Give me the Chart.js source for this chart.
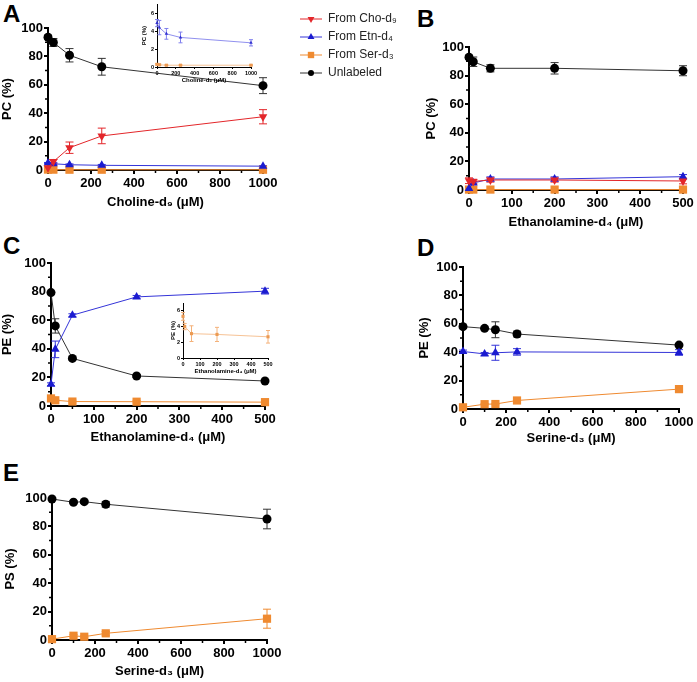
<!DOCTYPE html>
<html lang="en">
<head>
<meta charset="UTF-8">
<title>Labeled phospholipid fractions</title>
<script src="https://cdn.jsdelivr.net/npm/chart.js"></script>
<style>
  body { margin: 0; background: #fff; font-family: Arial, "Liberation Sans", sans-serif; }
  #page { position: relative; width: 697px; height: 682px; overflow: hidden; background: #fff; }
  .letter { position: absolute; font-weight: bold; font-size: 24px; line-height: 24px; color: #000; }
</style>
</head>
<body>
<div id="page">
  <div class="letter" style="left:3px;top:2px">A</div>
  <div class="letter" style="left:417px;top:7px">B</div>
  <div class="letter" style="left:3px;top:234px">C</div>
  <div class="letter" style="left:417px;top:236px">D</div>
  <div class="letter" style="left:3px;top:461px">E</div>
</div>
<script>
// ---- data (% of total) ----
// A: choline-d9 titration, PC
const xA = [0, 25, 100, 250, 1000];
const choA = [1.5, 5.9, 15.7, 24, 37.5];
const choErrA = [1, 1.5, 4, 5.5, 5];
const etnA = [4.9, 4.4, 3.7, 3.3, 2.7];
const etnErrA = [0.4, 0.8, 0.6, 0.6, 0.35];
const serA = [0.3, 0.25, 0.2, 0.2, 0.2];
const serErrA = [0.08, 0.08, 0.05, 0.05, 0.05];
const unlA = [93.5, 89.8, 80.8, 72.7, 59.4];
const unlErrA = [1.5, 2.8, 4.7, 5.9, 5.6];

// B: ethanolamine-d4 titration, PC
const xB = [0, 10, 50, 200, 500];
const choB = [6.5, 6, 7, 7, 6.3];
const choErrB = [2, 1.5, 1.5, 1.5, 2];
const etnB = [1, 4.9, 7.7, 7.7, 9.3];
const etnErrB = [0.5, 1, 1.5, 1.5, 1.5];
const serB = [0.3, 0.3, 0.3, 0.3, 0.3];
const serErrB = [0, 0, 0, 0, 0];
const unlB = [92.8, 89.7, 85.1, 85.1, 83.4];
const unlErrB = [1.5, 3.3, 2.5, 4, 3.5];

// C: ethanolamine-d4 titration, PE
const xC = [0, 10, 50, 200, 500];
const etnC = [15.2, 39.6, 63.5, 76.3, 80.3];
const etnErrC = [1, 5.8, 1, 1, 2];
const serC = [5.3, 4.0, 3.1, 3.0, 2.7];
const serErrC = [0.5, 0.4, 1.0, 0.9, 0.8];
const unlC = [79.3, 56, 33.3, 21, 17.5];
const unlErrC = [1, 5, 1, 1, 1];

// D: serine-d3 titration, PE
const xD = [0, 100, 150, 250, 1000];
const etnD = [40.5, 38.8, 39.6, 40.2, 39.8];
const etnErrD = [1, 1, 5.3, 2.3, 2];
const serD = [1.2, 3.4, 3.5, 6, 14];
const serErrD = [0.5, 0.5, 0.5, 0.8, 1];
const unlD = [58, 56.8, 55.8, 52.8, 45];
const unlErrD = [1, 1, 5.6, 2, 1];

// E: serine-d3 titration, PS
const xE = [0, 100, 150, 250, 1000];
const serE = [0.6, 3, 2.3, 4.7, 15];
const serErrE = [0.5, 0.8, 0.8, 1.3, 6.7];
const unlE = [99.3, 97, 97.4, 95.6, 85.2];
const unlErrE = [0.8, 1, 1, 2, 6.9];

const seriesNames = ['From Cho-d\u2089', 'From Etn-d\u2084', 'From Ser-d\u2083', 'Unlabeled'];

// ---- styles ----
const FONT = 'Arial, "Liberation Sans", sans-serif';
const RED = '#e3262a', BLUE = '#1b1bd0', ORANGE = '#ef8a30', BLACK = '#000000';

const styleCho = { borderColor: RED, pointBackgroundColor: RED, pointStyle: 'triangle', pointRotation: 180, pointRadius: 5, errColor: RED };
const styleEtn = { borderColor: '#3434d8', pointBackgroundColor: BLUE, pointStyle: 'triangle', pointRotation: 0, pointRadius: 5, errColor: '#3434d8' };
const styleSer = { borderColor: ORANGE, pointBackgroundColor: ORANGE, pointStyle: 'rect', pointRotation: 0, pointRadius: 5.8, errColor: ORANGE };
const styleUnl = { borderColor: '#333333', pointBackgroundColor: BLACK, pointStyle: 'circle', pointRotation: 0, pointRadius: 4.5, errColor: '#333333' };

const insetEtn = { borderColor: '#7474ea', pointBackgroundColor: '#3030d0', pointStyle: 'triangle', pointRadius: 2, errColor: '#8080ee' };
const insetSer = { borderColor: '#f4b27a', pointBackgroundColor: '#ec9a52', pointStyle: 'rect', pointRadius: 2.2, errColor: '#f4b27a' };

function pts(xs, ys) { return xs.map((x, i) => ({ x: x, y: ys[i] })); }

function series(label, xs, ys, errs, style, extra) {
  return Object.assign({
    label: label, data: pts(xs, ys), errors: errs,
    borderWidth: 1, pointBorderWidth: 0, pointHoverRadius: 0,
    clip: false, tension: 0, fill: false, capHalf: 4
  }, style, extra || {});
}

// ---- plugins ----
const errorBars = {
  id: 'errorBars',
  beforeDatasetsDraw(chart) {
    const { ctx, scales: { x, y } } = chart;
    chart.data.datasets.forEach(ds => {
      if (!ds.errors) return;
      ctx.save();
      ctx.strokeStyle = ds.errColor || ds.borderColor;
      ctx.lineWidth = ds.errWidth || 1;
      ds.data.forEach((p, j) => {
        const e = ds.errors[j];
        if (!e) return;
        const px = x.getPixelForValue(p.x);
        const y1 = y.getPixelForValue(Math.min(p.y + e, y.max));
        const y2 = y.getPixelForValue(Math.max(p.y - e, y.min));
        ctx.beginPath();
        ctx.moveTo(px, y1); ctx.lineTo(px, y2);
        ctx.moveTo(px - ds.capHalf, y1); ctx.lineTo(px + ds.capHalf, y1);
        ctx.moveTo(px - ds.capHalf, y2); ctx.lineTo(px + ds.capHalf, y2);
        ctx.stroke();
      });
      ctx.restore();
    });
  }
};

const minorTicks = {
  id: 'minorTicks',
  beforeDatasetsDraw(chart, args, o) {
    if (!o || !o.len) return;
    const { ctx, chartArea: a, scales: { x, y } } = chart;
    const isMajor = (v, m) => Math.abs(v / m - Math.round(v / m)) < 1e-6;
    ctx.save();
    ctx.strokeStyle = '#000';
    ctx.lineWidth = o.width;
    ctx.beginPath();
    if (o.x) for (let v = o.x; v < x.max; v += o.x) {
      if (isMajor(v, o.xMajor)) continue;
      const px = x.getPixelForValue(v);
      ctx.moveTo(px, a.bottom); ctx.lineTo(px, a.bottom + o.len);
    }
    if (o.y) for (let v = o.y; v < y.max; v += o.y) {
      if (isMajor(v, o.yMajor)) continue;
      const py = y.getPixelForValue(v);
      ctx.moveTo(a.left - o.len, py); ctx.lineTo(a.left, py);
    }
    ctx.stroke();
    ctx.restore();
  }
};

// ---- axis builder ----
function axis(o, size) {
  return {
    type: 'linear', min: 0, max: o.max,
    border: { color: '#000', width: o.lw },
    grid: { drawOnChartArea: false, drawTicks: true, tickLength: o.tl, tickColor: '#000', tickWidth: o.lw, lineWidth: o.lw },
    ticks: { stepSize: o.step, autoSkip: false, maxRotation: 0, includeBounds: false, color: '#000', padding: o.pad,
             callback: v => String(v),
             font: { family: FONT, size: o.fs, weight: 'bold' } },
    title: { display: true, text: o.title, color: '#000', padding: { top: o.tpad || 0, bottom: 0 },
             font: { family: FONT, size: o.ts, weight: 'bold' } },
    afterFit(s) { if (s.isHorizontal()) s.height = size; else s.width = size; }
  };
}

const page = document.getElementById('page');

function panel(box, area, xo, yo, datasets, minor) {
  const c = document.createElement('canvas');
  c.width = box.w; c.height = box.h;
  c.style.cssText = 'position:absolute;left:' + box.left + 'px;top:' + box.top + 'px;width:' + box.w + 'px;height:' + box.h + 'px';
  page.appendChild(c);
  return new Chart(c, {
    type: 'line',
    data: { datasets: datasets },
    options: {
      responsive: false, animation: false, events: [],
      layout: { padding: { left: 0, bottom: 0, top: area.t - box.top, right: box.left + box.w - area.r } },
      plugins: { legend: { display: false }, tooltip: { enabled: false }, minorTicks: minor || {} },
      scales: {
        x: axis(xo, box.top + box.h - area.b),
        y: axis(yo, area.l - box.left)
      }
    },
    plugins: [errorBars, minorTicks]
  });
}

const mainX = (max, step, title) => ({ max: max, step: step, title: title, lw: 2, tl: 4, pad: 2, fs: 13, ts: 13 });
const mainY = (title, tpad) => ({ max: 100, step: 20, title: title, lw: 2, tl: 4, pad: 1, fs: 13, ts: 13, tpad: tpad || 0 });
const insX = (max, step, title) => ({ max: max, step: step, title: title, lw: 1, tl: 2, pad: 1, fs: 5.5, ts: 6 });
const insY = (title) => ({ max: 7, step: 2, title: title, lw: 1, tl: 2, pad: 1, fs: 5.5, ts: 6 });

// A
panel({ left: 0, top: 0, w: 283, h: 210 }, { l: 48, t: 28, r: 263, b: 170 },
  mainX(1000, 200, 'Choline-d\u2089 (\u03bcM)'), mainY('PC (%)'),
  [series(seriesNames[0], xA, choA, choErrA, styleCho),
   series(seriesNames[1], xA, etnA, etnErrA, styleEtn),
   series(seriesNames[2], xA, serA, serErrA, styleSer),
   series(seriesNames[3], xA, unlA, unlErrA, styleUnl)],
  { x: 100, xMajor: 200, y: 10, yMajor: 20, len: 3, width: 1.5 });

// B
panel({ left: 424, top: 0, w: 273, h: 230 }, { l: 469, t: 47, r: 683, b: 190 },
  mainX(500, 100, 'Ethanolamine-d\u2084 (\u03bcM)'), mainY('PC (%)'),
  [series(seriesNames[0], xB, choB, choErrB, styleCho),
   series(seriesNames[1], xB, etnB, etnErrB, styleEtn),
   series(seriesNames[2], xB, serB, serErrB, styleSer),
   series(seriesNames[3], xB, unlB, unlErrB, styleUnl)],
  { x: 50, xMajor: 100, y: 10, yMajor: 20, len: 3, width: 1.5 });

// C
panel({ left: 0, top: 228, w: 279, h: 217 }, { l: 51, t: 263, r: 265, b: 406 },
  mainX(500, 100, 'Ethanolamine-d\u2084 (\u03bcM)'), mainY('PE (%)'),
  [series(seriesNames[1], xC, etnC, etnErrC, styleEtn),
   series(seriesNames[2], xC, serC, serErrC, styleSer),
   series(seriesNames[3], xC, unlC, unlErrC, styleUnl)],
  { x: 50, xMajor: 100, y: 10, yMajor: 20, len: 3, width: 1.5 });

// D
panel({ left: 417, top: 228, w: 280, h: 218 }, { l: 463, t: 267, r: 679, b: 409 },
  mainX(1000, 200, 'Serine-d\u2083 (\u03bcM)'), mainY('PE (%)'),
  [series(seriesNames[1], xD, etnD, etnErrD, styleEtn),
   series(seriesNames[2], xD, serD, serErrD, styleSer),
   series(seriesNames[3], xD, unlD, unlErrD, styleUnl)],
  { x: 100, xMajor: 200, y: 10, yMajor: 20, len: 3, width: 1.5 });

// E
panel({ left: 0, top: 458, w: 285, h: 221 }, { l: 52, t: 498, r: 267, b: 640 },
  mainX(1000, 200, 'Serine-d\u2083 (\u03bcM)'), mainY('PS (%)', 3),
  [series(seriesNames[2], xE, serE, serErrE, styleSer),
   series(seriesNames[3], xE, unlE, unlErrE, styleUnl)],
  { x: 100, xMajor: 200, y: 10, yMajor: 20, len: 3, width: 1.5 });

// inset in A (zoom on the low PC fractions)
panel({ left: 141, top: 0, w: 118, h: 84 }, { l: 157, t: 4, r: 251, b: 67 },
  insX(1000, 200, 'Choline-d\u2089 (\u03bcM)'), insY('PC (%)'),
  [series(seriesNames[1], xA, etnA, etnErrA, insetEtn, { capHalf: 2, borderWidth: 0.8 }),
   series(seriesNames[2], xA, serA, serErrA, insetSer, { capHalf: 2, borderWidth: 0.8 })]);

// inset in C (zoom on the Ser-derived PE)
panel({ left: 170, top: 298, w: 105, h: 77 }, { l: 183, t: 303, r: 268, b: 358 },
  insX(500, 100, 'Ethanolamine-d\u2084 (\u03bcM)'), insY('PE (%)'),
  [series(seriesNames[2], xC, serC, serErrC, insetSer, { capHalf: 2, borderWidth: 0.8 })]);

// ---- legend (shared by all panels) ----
function legendIcon(st, r) {
  const c = document.createElement('canvas');
  c.width = 22; c.height = 12;
  const ctx = c.getContext('2d');
  ctx.strokeStyle = st.borderColor; ctx.lineWidth = 1;
  ctx.beginPath(); ctx.moveTo(0, 6); ctx.lineTo(22, 6); ctx.stroke();
  ctx.fillStyle = st.pointBackgroundColor;
  Chart.helpers.drawPoint(ctx, { pointStyle: st.pointStyle, rotation: st.pointRotation || 0, radius: r, borderWidth: 0 }, 11, 6);
  return c;
}
const legendStyles = [styleCho, styleEtn, styleSer, styleUnl];
const legendRadius = [4, 4, 4.5, 3];
const lc = document.createElement('canvas');
lc.width = 130; lc.height = 90;
lc.style.cssText = 'position:absolute;left:294px;top:7px;width:130px;height:90px';
page.appendChild(lc);
new Chart(lc, {
  type: 'line',
  data: { datasets: seriesNames.map((n, i) => Object.assign({ label: n, data: [] }, legendStyles[i])) },
  options: {
    responsive: false, animation: false, events: [],
    layout: { padding: 0 },
    scales: { x: { display: false }, y: { display: false } },
    plugins: {
      tooltip: { enabled: false },
      legend: {
        position: 'top', align: 'start', maxHeight: 90,
        labels: {
          usePointStyle: true, pointStyleWidth: 22, padding: 6, color: '#222',
          font: { family: FONT, size: 12, lineHeight: 1 },
          generateLabels(chart) {
            return chart.data.datasets.map((ds, i) => ({
              text: ds.label, pointStyle: legendIcon(legendStyles[i], legendRadius[i]),
              fillStyle: ds.borderColor, strokeStyle: ds.borderColor, lineWidth: 0,
              hidden: false, datasetIndex: i, fontColor: '#222'
            }));
          }
        }
      }
    }
  }
});
</script>
</body>
</html>
